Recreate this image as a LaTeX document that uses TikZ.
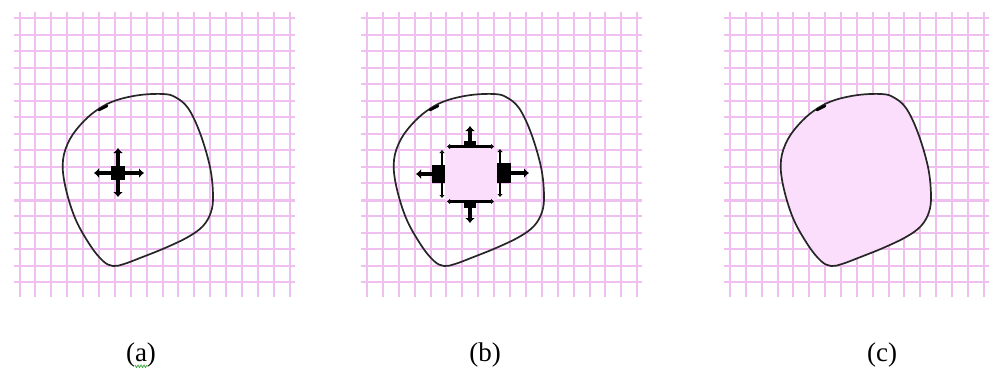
\documentclass[tikz,border=0pt]{standalone}
\usepackage{fontspec}
\setmainfont{Liberation Serif}
\usetikzlibrary{arrows.meta}
\definecolor{gridpink}{RGB}{239,192,239}
\definecolor{fillpink}{RGB}{251,222,251}
\definecolor{squig}{RGB}{60,170,60}
\newcommand\gridpanel[3]{%
  \pgfmathsetmacro\gxa{round(#1-6)}%
  \pgfmathsetmacro\gxb{round(#1+#3*#2+5)}%
  \foreach \k in {0,...,#2} {\pgfmathsetmacro\gx{round(#1+#3*\k)}\draw[gridline] (\gx,12) -- (\gx,297);}
  \foreach \j in {0,...,16} {\pgfmathsetmacro\gy{round(18+16.5*\j)}\draw[gridline] (\gxa,\gy) -- (\gxb,\gy);}
  \draw[gridthick] (\gxa,200) -- (\gxb,200);
}
\tikzset{
  gridline/.style={draw=gridpink, line width=2pt},
  gridthick/.style={draw=gridpink, line width=3pt},
  blobline/.style={draw=black!85, line width=1.7pt},
  tickmark/.style={draw=black, line width=2.6pt, line cap=round},
  fatarrow/.style={draw=black, line width=4.4pt, -{Latex[length=5pt,width=10pt]}},
  thinbar/.style={draw=black, line width=2.6pt, {Latex[length=3pt,width=6pt]}-{Latex[length=3pt,width=6pt]}},
  lbl/.style={font=\fontsize{27}{30}\selectfont, inner sep=0pt},
  blob/.pic={
    \path[blobline,pic actions] plot[smooth cycle, tension=0.6] coordinates {
      (100,108) (117,100) (140,95) (163,94) (175,97) (188,108) (200,133)
      (210,167) (213,195) (211,212) (203,226) (188,237) (165,248) (140,258)
      (124,264) (113,266) (103,261) (90,245) (75,218) (65,185) (63,160)
      (70,139) (84,121)};
    \draw[tickmark] (99,110) -- (107,106);
  }
}
\begin{document}
\begin{tikzpicture}[x=1pt,y=-1pt]
\useasboundingbox[fill=white] (0,0) rectangle (989,368);
% grids
\gridpanel{19.5}{17}{15.9}
\gridpanel{367}{17}{15.9}
\gridpanel{730}{16}{15.85}
% blobs
\pic (blobA) at (0,0) {blob};
\pic (blobB) at (331,0) {blob};
\pic[fill=fillpink] (blobC) at (718,0) {blob};
% (a) cross
\coordinate (ca) at (118,173);
\coordinate (caL) at (94,173);
\coordinate (caR) at (144,173);
\coordinate (caU) at (118,148);
\coordinate (caD) at (118,197);
\draw[fatarrow] (ca) -- (caL);
\draw[fatarrow] (ca) -- (caR);
\draw[fatarrow] (ca) -- (caU);
\draw[fatarrow] (ca) -- (caD);
\node[fill=black, minimum size=14pt, inner sep=0pt] (sqa) at (ca) {};
% (b) growing square
\node[fill=fillpink, minimum width=52pt, minimum height=52pt, inner sep=0pt, anchor=north west] (sqb) at (445,148) {};
% top
\draw[thinbar] (447,146.5) -- (494,146.5);
\fill (464,141) rectangle (476,148);
\coordinate (bUs) at (470,142);
\coordinate (bUe) at (470,126);
\draw[fatarrow] (bUs) -- (bUe);
% bottom
\draw[thinbar] (447,201.5) -- (494,201.5);
\fill (464,200) rectangle (476,208);
\coordinate (bDs) at (470,207);
\coordinate (bDe) at (470,223);
\draw[fatarrow] (bDs) -- (bDe);
% left
\draw[thinbar] (442,150) -- (442,198);
\fill (432,165) rectangle (445,183);
\coordinate (bLs) at (433,174);
\coordinate (bLe) at (416,174);
\draw[fatarrow] (bLs) -- (bLe);
% right
\draw[thinbar] (500,149) -- (500,197);
\fill (497,163) rectangle (511,183);
\coordinate (bRs) at (510,173);
\coordinate (bRe) at (529,173);
\draw[fatarrow] (bRs) -- (bRe);
% labels
\node[lbl] (la) at (141,355) {(a)};
\node[lbl] (lb) at (485,355) {(b)};
\node[lbl] (lc) at (882,355) {(c)};
\draw[squig, line width=0.7pt] (135,365) -- (136.5,367.5) -- (138,365) -- (139.5,367.5) -- (141,365) -- (142.5,367.5) -- (144,365) -- (145.5,367.5) -- (147,365);
\end{tikzpicture}
\end{document}
